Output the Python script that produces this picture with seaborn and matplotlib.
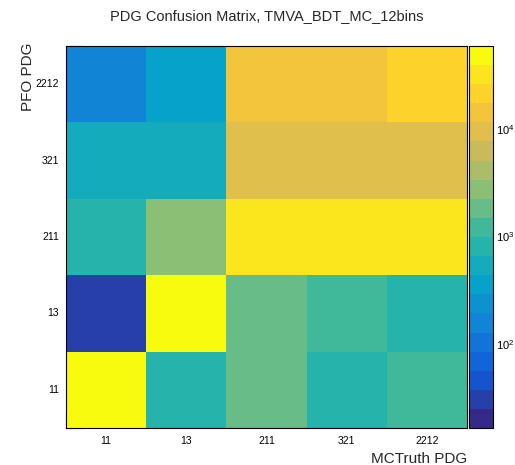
import numpy as np
import pandas as pd
import matplotlib
matplotlib.use("Agg")
import matplotlib.pyplot as plt
import seaborn as sns
from matplotlib.colors import LinearSegmentedColormap, ListedColormap, LogNorm
from matplotlib.ticker import LogLocator, NullFormatter

# MC truth PDG codes (columns) and reconstructed PFO codes (rows, top to bottom)
truth_pdg = ["11", "13", "211", "321", "2212"]
pfo_pdg = ["2212", "321", "211", "13", "11"]

# Entries per PFO row, one value per MC truth column
counts_2212 = [160, 350, 13800, 14600, 21000]
counts_321 = [540, 520, 9200, 9600, 9300]
counts_211 = [800, 2700, 31000, 33000, 32500]
counts_13 = [31, 52000, 1850, 1200, 790]
counts_11 = [59000, 820, 1800, 810, 1230]

z_min, z_max = 16.6, 59200
n_contours = 20

df = pd.DataFrame(
    [counts_2212, counts_321, counts_211, counts_13, counts_11],
    index=pfo_pdg, columns=truth_pdg,
)

# Bird palette, split into equal contour bands
stops = [0.0, 0.125, 0.25, 0.375, 0.5, 0.625, 0.75, 0.875, 1.0]
red = [0.2082, 0.0592, 0.0780, 0.0232, 0.1802, 0.5301, 0.8186, 0.9956, 0.9764]
green = [0.1664, 0.3599, 0.5041, 0.6419, 0.7178, 0.7492, 0.7328, 0.7862, 0.9832]
blue = [0.5293, 0.8684, 0.8385, 0.7914, 0.6425, 0.4662, 0.3499, 0.1968, 0.0539]
bird = LinearSegmentedColormap.from_list(
    "bird", list(zip(stops, zip(red, green, blue)))
)
cmap = ListedColormap([bird(i / (n_contours - 1)) for i in range(n_contours)])

sns.set_style("white")
plt.rcParams["font.family"] = ["Liberation Sans", "DejaVu Sans"]

W, H = 515, 465
fig = plt.figure(figsize=(W / 100, H / 100), dpi=100)
ax = fig.add_axes([66 / W, 1 - 428 / H, 401 / W, 382 / H])
cax = fig.add_axes([469 / W, 1 - 428 / H, 24 / W, 382 / H])

sns.heatmap(
    df, ax=ax, cmap=cmap, norm=LogNorm(vmin=z_min, vmax=z_max),
    cbar=True, cbar_ax=cax, xticklabels=True, yticklabels=True, linewidths=0,
)

# Frame
for side in ["left", "right", "top", "bottom"]:
    ax.spines[side].set_visible(True)
    ax.spines[side].set_color("black")
    ax.spines[side].set_linewidth(0.8)

# Labels at bin centres, tick marks on bin edges
ax.tick_params(which="major", length=0, labelsize=7.5, colors="black")
ax.tick_params(axis="x", which="major", pad=6)
ax.tick_params(axis="y", which="major", pad=5)
ax.set_xticks(np.arange(0, 6), minor=True)
ax.set_yticks(np.arange(0, 6), minor=True)
ax.tick_params(which="minor", direction="in", length=12, width=0.8,
               bottom=True, left=True, top=False, right=False, color="black")
plt.setp(ax.get_yticklabels(), rotation=0)
plt.setp(ax.get_xticklabels(), rotation=0)

ax.set_xlabel("MCTruth PDG", loc="right", fontsize=11)
ax.set_ylabel("PFO PDG", loc="top", fontsize=11)
ax.xaxis.set_label_coords(1.0, -0.063)
ax.yaxis.set_label_coords(-0.077, 1.01)

fig.text(267 / W, 1 - 16 / H, "PDG Confusion Matrix, TMVA_BDT_MC_12bins",
         ha="center", va="center", fontsize=10.5)

# Colour scale
cb = ax.collections[0].colorbar
cb.outline.set_visible(True)
cb.outline.set_linewidth(0.8)
cb.outline.set_edgecolor("black")
cax.yaxis.set_major_locator(LogLocator(base=10))
cax.yaxis.set_minor_locator(LogLocator(base=10, subs=np.arange(2, 10)))
cax.yaxis.set_minor_formatter(NullFormatter())
cax.tick_params(which="major", direction="in", length=10, width=0.8,
                labelsize=8, pad=2, right=True, colors="black")
cax.tick_params(which="minor", direction="in", length=5, width=0.8, right=True)

fig.savefig("out.png", dpi=100, facecolor="white")
